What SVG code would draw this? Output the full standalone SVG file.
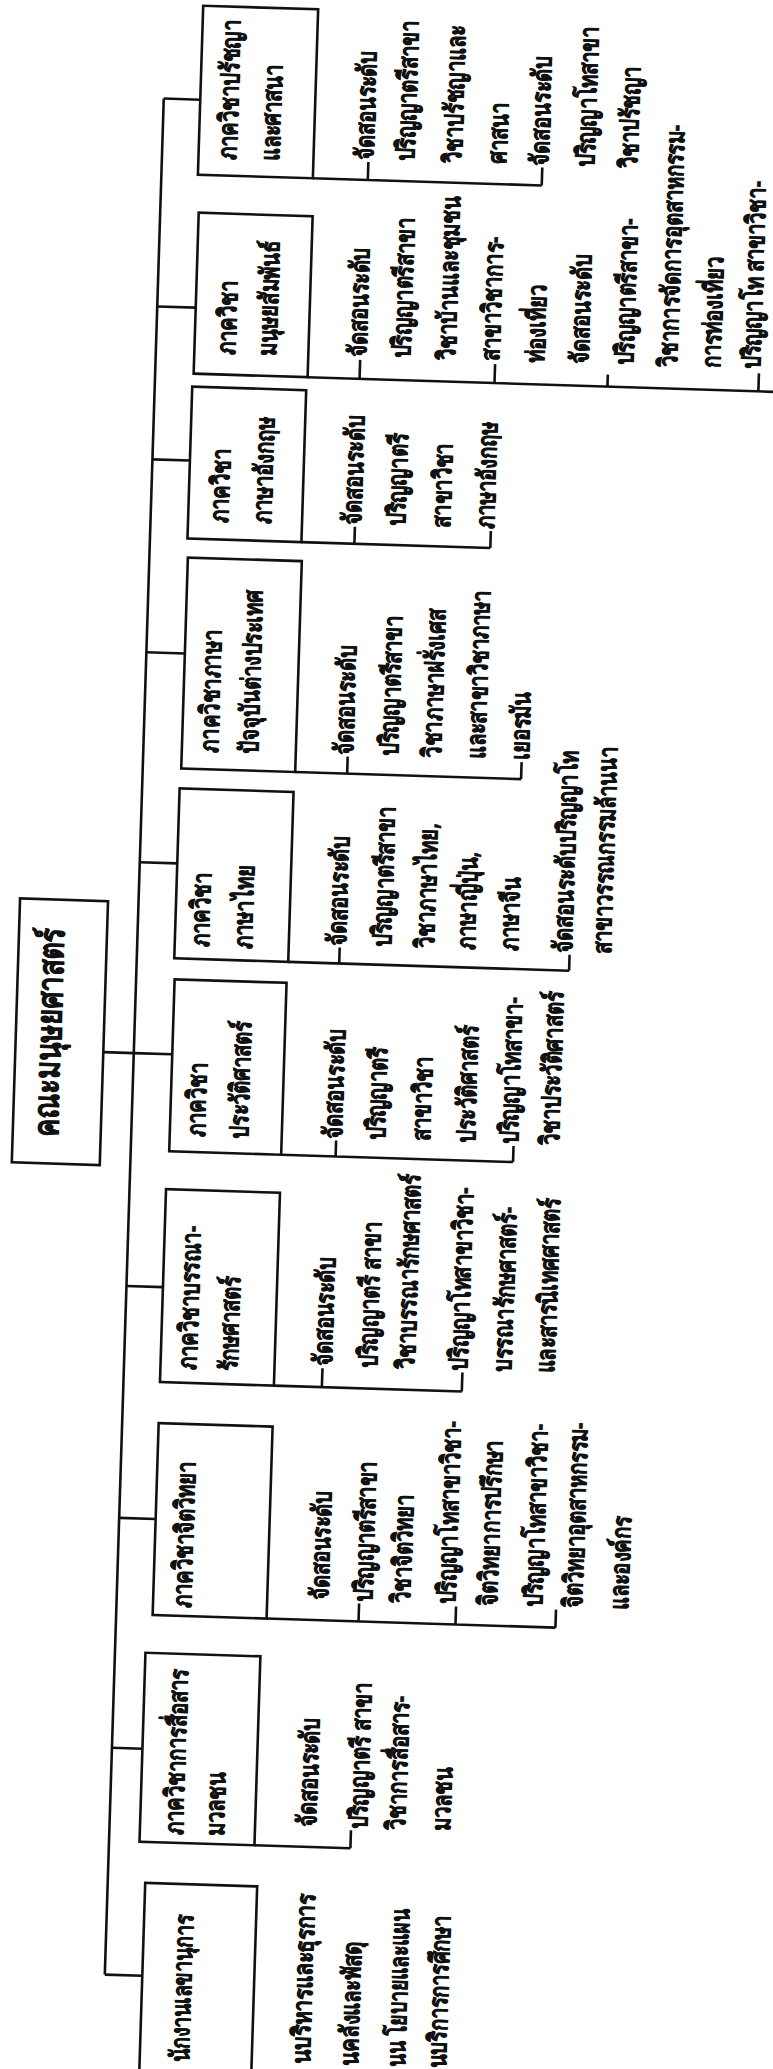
<svg xmlns="http://www.w3.org/2000/svg" width="773" height="2069" viewBox="0 0 773 2069">
<style>
.bx{fill:none;stroke:#111;stroke-width:2.6}
.ln{fill:none;stroke:#111;stroke-width:2.6}
.t{font-family:'Noto Sans','DejaVu Sans',sans-serif;font-size:20px;font-weight:bold;fill:#111;stroke:#111;stroke-width:0.45}
.rt{font-family:'Noto Sans','DejaVu Sans',sans-serif;font-size:27px;font-weight:bold;fill:#111;stroke:#111;stroke-width:0.5}
</style>
<rect width="773" height="2069" fill="#fff"/>
<g transform="rotate(1.8 386 1034)">
<g id="connectors" class="ln">
<path d="M134.5 106V1983M104 1061H134.5"/>
<path d="M134.5 106H171M134.5 314H173M134.5 467H172M134.5 660H173M134.5 870H172M134.5 1061H173M134.5 1294H171M134.5 1526H171M134.5 1756H165M134.5 1983H172"/>
<path d="M286 181H515M341 181V163M515 181V163"/>
<path d="M287 380H800M339 380V361M474 380V361M587 380V368M738 380V362"/>
<path d="M286 545H475M339 545V528M475 545V528"/>
<path d="M287 775H513M339 775V758M513 775V758"/>
<path d="M286 965H567M337 965V949M567 965V949"/>
<path d="M285 1158H517M339.5 1158V1142M517 1158V1142"/>
<path d="M285 1389H473M333 1389V1370M473 1389V1370"/>
<path d="M285 1622H574M377 1622V1604M474 1622V1604M574 1622V1604"/>
<path d="M280 1849H376M376 1849V1831"/>
</g>
<g id="root">
<rect class="bx" x="16" y="910" width="88" height="264"/>
<text class="rt" transform="matrix(0,-1,1.3,0,61,1147)">คณะมนุษยศาสตร์</text>
</g>
<g id="dept-philosophy">
<rect class="bx" x="171" y="12" width="115" height="169"/>
<text class="t" transform="matrix(0,-1,1.3,0,209,165)">ภาควิชาปรัชญา</text>
<text class="t" transform="matrix(0,-1,1.3,0,252,165)">และศาสนา</text>
<text class="t" transform="matrix(0,-1,1.3,0,346,161)">จัดสอนระดับ</text>
<text class="t" transform="matrix(0,-1,1.3,0,387,161)">ปริญญาตรีสาขา</text>
<text class="t" transform="matrix(0,-1,1.3,0,434,161)">วิชาปรัชญาและ</text>
<text class="t" transform="matrix(0,-1,1.3,0,479,161)">ศาสนา</text>
<text class="t" transform="matrix(0,-1,1.3,0,521,161)">จัดสอนระดับ</text>
<text class="t" transform="matrix(0,-1,1.3,0,567,161)">ปริญญาโทสาขา</text>
<text class="t" transform="matrix(0,-1,1.3,0,610,161)">วิชาปรัชญา</text>
</g>
<g id="dept-human-relations">
<rect class="bx" x="173" y="219" width="114" height="161"/>
<text class="t" transform="matrix(0,-1,1.3,0,214,360)">ภาควิชา</text>
<text class="t" transform="matrix(0,-1,1.3,0,255,360)">มนุษยสัมพันธ์</text>
<text class="t" transform="matrix(0,-1,1.3,0,345,358)">จัดสอนระดับ</text>
<text class="t" transform="matrix(0,-1,1.3,0,389,358)">ปริญญาตรีสาขา</text>
<text class="t" transform="matrix(0,-1,1.3,0,434,358)">วิชาบ้านและชุมชน</text>
<text class="t" transform="matrix(0,-1,1.3,0,478,358)">สาขาวิชาการ-</text>
<text class="t" transform="matrix(0,-1,1.3,0,523,358)">ท่องเที่ยว</text>
<text class="t" transform="matrix(0,-1,1.3,0,567,358)">จัดสอนระดับ</text>
<text class="t" transform="matrix(0,-1,1.3,0,612,358)">ปริญญาตรีสาขา-</text>
<text class="t" transform="matrix(0,-1,1.3,0,656,358)">วิชาการจัดการอุตสาหกรรม-</text>
<text class="t" transform="matrix(0,-1,1.3,0,699,358)">การท่องเที่ยว</text>
<text class="t" transform="matrix(0,-1,1.3,0,739,358)">ปริญญาโท สาขาวิชา-</text>
</g>
<g id="dept-english">
<rect class="bx" x="172" y="393" width="114" height="152"/>
<text class="t" transform="matrix(0,-1,1.3,0,212,528)">ภาควิชา</text>
<text class="t" transform="matrix(0,-1,1.3,0,255,528)">ภาษาอังกฤษ</text>
<text class="t" transform="matrix(0,-1,1.3,0,345,526)">จัดสอนระดับ</text>
<text class="t" transform="matrix(0,-1,1.3,0,389,526)">ปริญญาตรี</text>
<text class="t" transform="matrix(0,-1,1.3,0,434,526)">สาขาวิชา</text>
<text class="t" transform="matrix(0,-1,1.3,0,478,526)">ภาษาอังกฤษ</text>
</g>
<g id="dept-modern-languages">
<rect class="bx" x="173" y="564" width="114" height="211"/>
<text class="t" transform="matrix(0,-1,1.3,0,209,758)">ภาควิชาภาษา</text>
<text class="t" transform="matrix(0,-1,1.3,0,249,758)">ปัจจุบันต่างประเทศ</text>
<text class="t" transform="matrix(0,-1,1.3,0,344,756)">จัดสอนระดับ</text>
<text class="t" transform="matrix(0,-1,1.3,0,389,756)">ปริญญาตรีสาขา</text>
<text class="t" transform="matrix(0,-1,1.3,0,432,756)">วิชาภาษาฝรั่งเศส</text>
<text class="t" transform="matrix(0,-1,1.3,0,476,756)">และสาขาวิชาภาษา</text>
<text class="t" transform="matrix(0,-1,1.3,0,520,756)">เยอรมัน</text>
</g>
<g id="dept-thai">
<rect class="bx" x="172" y="795" width="114" height="170"/>
<text class="t" transform="matrix(0,-1,1.3,0,206,953)">ภาควิชา</text>
<text class="t" transform="matrix(0,-1,1.3,0,249,953)">ภาษาไทย</text>
<text class="t" transform="matrix(0,-1,1.3,0,343,947)">จัดสอนระดับ</text>
<text class="t" transform="matrix(0,-1,1.3,0,388,947)">ปริญญาตรีสาขา</text>
<text class="t" transform="matrix(0,-1,1.3,0,431,947)">วิชาภาษาไทย,</text>
<text class="t" transform="matrix(0,-1,1.3,0,472,947)">ภาษาญี่ปุ่น,</text>
<text class="t" transform="matrix(0,-1,1.3,0,515,947)">ภาษาจีน</text>
<text class="t" transform="matrix(0,-1,1.3,0,569,947)">จัดสอนระดับปริญญาโท</text>
<text class="t" transform="matrix(0,-1,1.3,0,608,947)">สาขาวรรณกรรมล้านนา</text>
</g>
<g id="dept-history">
<rect class="bx" x="173" y="986" width="112" height="172"/>
<text class="t" transform="matrix(0,-1,1.3,0,208,1143)">ภาควิชา</text>
<text class="t" transform="matrix(0,-1,1.3,0,251,1143)">ประวัติศาสตร์</text>
<text class="t" transform="matrix(0,-1,1.3,0,345,1140)">จัดสอนระดับ</text>
<text class="t" transform="matrix(0,-1,1.3,0,388,1140)">ปริญญาตรี</text>
<text class="t" transform="matrix(0,-1,1.3,0,433,1140)">สาขาวิชา</text>
<text class="t" transform="matrix(0,-1,1.3,0,478,1140)">ประวัติศาสตร์</text>
<text class="t" transform="matrix(0,-1,1.3,0,521,1140)">ปริญญาโทสาขา-</text>
<text class="t" transform="matrix(0,-1,1.3,0,562,1140)">วิชาประวัติศาสตร์</text>
</g>
<g id="dept-library-science">
<rect class="bx" x="171" y="1196" width="114" height="193"/>
<text class="t" transform="matrix(0,-1,1.3,0,207,1376)">ภาควิชาบรรณา-</text>
<text class="t" transform="matrix(0,-1,1.3,0,248,1376)">รักษศาสตร์</text>
<text class="t" transform="matrix(0,-1,1.3,0,342,1368)">จัดสอนระดับ</text>
<text class="t" transform="matrix(0,-1,1.3,0,387,1368)">ปริญญาตรี สาขา</text>
<text class="t" transform="matrix(0,-1,1.3,0,425,1368)">วิชาบรรณารักษศาสตร์</text>
<text class="t" transform="matrix(0,-1,1.3,0,478,1368)">ปริญญาโทสาขาวิชา-</text>
<text class="t" transform="matrix(0,-1,1.3,0,522,1368)">บรรณารักษศาสตร์-</text>
<text class="t" transform="matrix(0,-1,1.3,0,565,1368)">และสารนิเทศศาสตร์</text>
</g>
<g id="dept-psychology">
<rect class="bx" x="171" y="1430" width="114" height="192"/>
<text class="t" transform="matrix(0,-1,1.3,0,209,1614)">ภาควิชาจิตวิทยา</text>
<text class="t" transform="matrix(0,-1,1.3,0,346,1602)">จัดสอนระดับ</text>
<text class="t" transform="matrix(0,-1,1.3,0,390,1602)">ปริญญาตรีสาขา</text>
<text class="t" transform="matrix(0,-1,1.3,0,428,1602)">วิชาจิตวิทยา</text>
<text class="t" transform="matrix(0,-1,1.3,0,473,1602)">ปริญญาโทสาขาวิชา-</text>
<text class="t" transform="matrix(0,-1,1.3,0,515,1602)">จิตวิทยาการปรึกษา</text>
<text class="t" transform="matrix(0,-1,1.3,0,560,1602)">ปริญญาโทสาขาวิชา-</text>
<text class="t" transform="matrix(0,-1,1.3,0,600,1602)">จิตวิทยาอุตสาหกรรม-</text>
<text class="t" transform="matrix(0,-1,1.3,0,646,1602)">และองค์กร</text>
</g>
<g id="dept-mass-communication">
<rect class="bx" x="165" y="1660" width="115" height="189"/>
<text class="t" transform="matrix(0,-1,1.3,0,208,1841)">ภาควิชาการสื่อสาร</text>
<text class="t" transform="matrix(0,-1,1.3,0,249,1841)">มวลชน</text>
<text class="t" transform="matrix(0,-1,1.3,0,341,1829)">จัดสอนระดับ</text>
<text class="t" transform="matrix(0,-1,1.3,0,392,1829)">ปริญญาตรี สาขา</text>
<text class="t" transform="matrix(0,-1,1.3,0,430,1829)">วิชาการสื่อสาร-</text>
<text class="t" transform="matrix(0,-1,1.3,0,475,1829)">มวลชน</text>
</g>
<g id="office-secretary">
<rect class="bx" x="172" y="1890" width="112" height="260"/>
<text class="t" transform="matrix(0,-1,1.3,0,221,2068)" textLength="147" lengthAdjust="spacingAndGlyphs">นักงานเลขานุการ</text>
<text class="t" transform="matrix(0,-1,1.3,0,342,2066)" textLength="170" lengthAdjust="spacingAndGlyphs">นบริหารและธุรการ</text>
<text class="t" transform="matrix(0,-1,1.3,0,390,2066)" textLength="124" lengthAdjust="spacingAndGlyphs">นคลังและพัสดุ</text>
<text class="t" transform="matrix(0,-1,1.3,0,437,2066)" textLength="158" lengthAdjust="spacingAndGlyphs">นน โยบายและแผน</text>
<text class="t" transform="matrix(0,-1,1.3,0,478,2066)" textLength="153" lengthAdjust="spacingAndGlyphs">นบริการการศึกษา</text>
</g>
</g>
</svg>
